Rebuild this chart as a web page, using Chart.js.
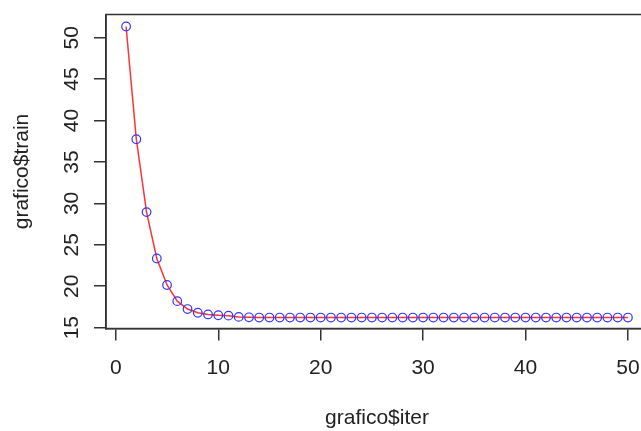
<!DOCTYPE html>
<html>
<head>
<meta charset="utf-8">
<script src="https://cdn.jsdelivr.net/npm/chart.js@4/dist/chart.umd.min.js"></script>
<style>
  html, body { margin: 0; padding: 0; background: #fff; overflow: hidden; }
  #wrap { width: 654px; height: 431px; }
</style>
</head>
<body>
<div id="wrap"><canvas id="c"></canvas></div>
<script>
// grafico$iter / grafico$train
const iter = [1,2,3,4,5,6,7,8,9,10,11,12,13,14,15,16,17,18,19,20,
  21,22,23,24,25,26,27,28,29,30,31,32,33,34,35,36,37,38,39,40,
  41,42,43,44,45,46,47,48,49,50];
const train = [51.35,37.75,28.95,23.35,20.15,18.2,17.25,16.8,16.6,16.5,
  16.45,16.3,16.25,16.22,16.22,16.22,16.22,16.22,16.22,16.22,
  16.22,16.22,16.22,16.22,16.22,16.22,16.22,16.22,16.22,16.22,
  16.22,16.22,16.22,16.22,16.22,16.22,16.22,16.22,16.22,16.22,
  16.22,16.22,16.22,16.22,16.22,16.22,16.22,16.22,16.22,16.22];
const xTicks = [0, 10, 20, 30, 40, 50];
const yTicks = [15, 20, 25, 30, 35, 40, 45, 50];

const FONT = { family: "'Liberation Sans', Arial, sans-serif", size: 21, lineHeight: 1 };
const INK = '#222';

// R draws a box around the plot region
const boxPlugin = {
  id: 'box',
  afterDraw(chart) {
    const a = chart.chartArea, ctx = chart.ctx;
    ctx.save();
    ctx.strokeStyle = '#333';
    ctx.lineWidth = 1.5;
    ctx.strokeRect(a.left, a.top, a.right - a.left, a.bottom - a.top);
    ctx.restore();
  }
};

new Chart(document.getElementById('c'), {
  type: 'line',
  data: {
    datasets: [{
      data: iter.map((x, i) => ({ x: x, y: train[i] })),
      borderColor: '#ff3333',
      borderWidth: 1.5,
      pointRadius: 4.3,
      pointBorderWidth: 1.2,
      pointBorderColor: '#3333ff',
      pointBackgroundColor: 'rgba(0,0,0,0)',
      tension: 0
    }]
  },
  options: {
    responsive: true,
    maintainAspectRatio: false,
    animation: false,
    layout: { padding: { top: 14.5, right: 6, left: 0, bottom: 0 } },
    plugins: { legend: { display: false }, tooltip: { enabled: false } },
    scales: {
      x: {
        type: 'linear',
        min: -0.96,
        max: 51.96,
        afterBuildTicks: s => { s.ticks = xTicks.map(v => ({ value: v })); },
        afterFit: s => { s.height = 102.5; s.paddingLeft = 0; s.paddingRight = 0; },
        grid: { drawOnChartArea: false, drawTicks: true, tickLength: 12, color: '#333', lineWidth: 1.5 },
        border: { display: true, color: '#333', width: 1.5 },
        ticks: { font: FONT, color: INK, padding: 17, maxRotation: 0, minRotation: 0 },
        title: { display: true, text: 'grafico$iter', font: FONT, color: INK, padding: { top: 0, bottom: 2.5 } }
      },
      y: {
        type: 'linear',
        min: 14.9,
        max: 52.8,
        afterBuildTicks: s => { s.ticks = yTicks.map(v => ({ value: v })); },
        afterFit: s => { s.width = 106; s.paddingTop = 0; s.paddingBottom = 0; },
        grid: { drawOnChartArea: false, drawTicks: true, tickLength: 12, color: '#333', lineWidth: 1.5 },
        border: { display: true, color: '#333', width: 1.5 },
        ticks: { font: FONT, color: INK, padding: 10.5, minRotation: 90, maxRotation: 90, crossAlign: 'center' },
        title: { display: true, text: 'grafico$train', font: FONT, color: INK, padding: { top: 11.5, bottom: 0 } }
      }
    }
  },
  plugins: [boxPlugin]
});
</script>
</body>
</html>
